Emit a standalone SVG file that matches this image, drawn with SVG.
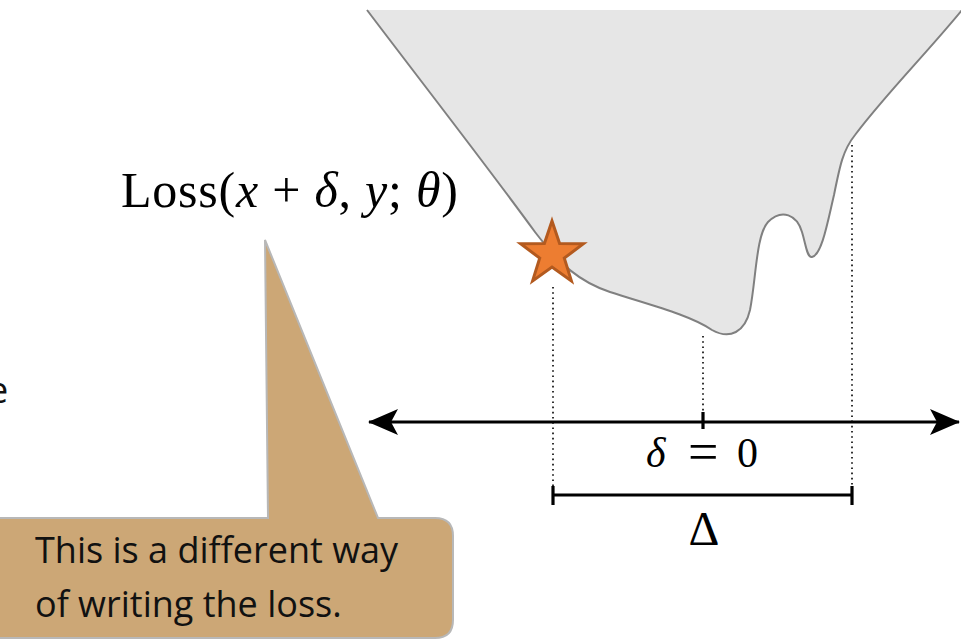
<svg xmlns="http://www.w3.org/2000/svg" width="961" height="642" viewBox="0 0 961 642">
<style>
.math{font-family:"Liberation Serif","Times New Roman",serif;fill:#000}
.it{font-style:italic}
.body{font-family:"Open Sans","Noto Sans",sans-serif;font-size:36px;fill:#111}
.dot{stroke:#000;stroke-width:1.6;stroke-dasharray:1.6 3.6;fill:none}
.axis{stroke:#000;stroke-width:3.2;fill:none}
</style>
<defs>
<marker id="ah" viewBox="0 0 30 26" refX="29" refY="13" markerWidth="30" markerHeight="26" markerUnits="userSpaceOnUse" orient="auto-start-reverse">
<path d="M0 0 L30 13 L0 26 L7 13 Z" fill="#000"/>
</marker>
</defs>
<g id="landscape">
<path d="M367 10 C420 80,490 170,535 232 C560 265,580 282,610 292 C650 305,690 315,712 330 C730 340,745 332,750 310 C756 280,756 235,768 222 C782 208,797 215,802 232 C806 245,807 258,812 257 C822 255,828 220,834 195 C840 165,843 150,855 135 C885 95,925 55,962 10 Z" fill="#e6e6e6"/>
<path d="M367 10 C420 80,490 170,535 232 C560 265,580 282,610 292 C650 305,690 315,712 330 C730 340,745 332,750 310 C756 280,756 235,768 222 C782 208,797 215,802 232 C806 245,807 258,812 257 C822 255,828 220,834 195 C840 165,843 150,855 135 C885 95,925 55,962 10" fill="none" stroke="#808080" stroke-width="2"/>
</g>
<g id="connectors">
<line class="dot" x1="553" y1="287" x2="553" y2="487"/>
<line class="dot" x1="703" y1="336" x2="703" y2="413"/>
<line class="dot" x1="852" y1="145" x2="852" y2="487"/>
<line class="axis" x1="369" y1="422" x2="959" y2="422" marker-start="url(#ah)" marker-end="url(#ah)"/>
<line class="axis" x1="703" y1="412" x2="703" y2="429"/>
<line class="axis" x1="553" y1="495" x2="852" y2="495"/>
<line class="axis" x1="553" y1="486" x2="553" y2="505"/>
<line class="axis" x1="852" y1="486" x2="852" y2="505"/>
</g>
<g id="star">
<polygon points="552,221 559.6,243.5 583.4,243.8 564.3,258.1 571.4,280.9 552,267 532.6,280.9 539.7,258.1 520.6,243.8 544.4,243.5" fill="#ed7d31" stroke="#b35a1f" stroke-width="3"/>
</g>
<g id="loss-label">
<text class="math" x="121" y="207" font-size="50" textLength="337" lengthAdjust="spacing">Loss(<tspan class="it">x</tspan> + <tspan class="it">δ</tspan>, <tspan class="it">y</tspan>; <tspan class="it">θ</tspan>)</text>
</g>
<g id="delta-zero">
<text class="math it" font-size="42" x="646" y="467">δ</text>
<text class="math" font-size="54" x="688" y="470">=</text>
<text class="math" font-size="42" x="737" y="467">0</text>
</g>
<g id="Delta">
<text class="math" font-size="48" x="704" y="545" text-anchor="middle">Δ</text>
</g>
<g id="callout">
<path d="M-20 518 L268 518 L265 240 L378 518 L435 518 Q453 518 453 536 L453 620 Q453 638 435 638 L-20 638 Z" fill="#cca776" stroke="#b8b8b8" stroke-width="2"/>
<text class="body" x="35" y="563">This is a different way</text>
<text class="body" x="35" y="617">of writing the loss.</text>
</g>
<g id="fragment">
<text class="body" x="-12" y="403" font-size="28">e</text>
</g>
</svg>
